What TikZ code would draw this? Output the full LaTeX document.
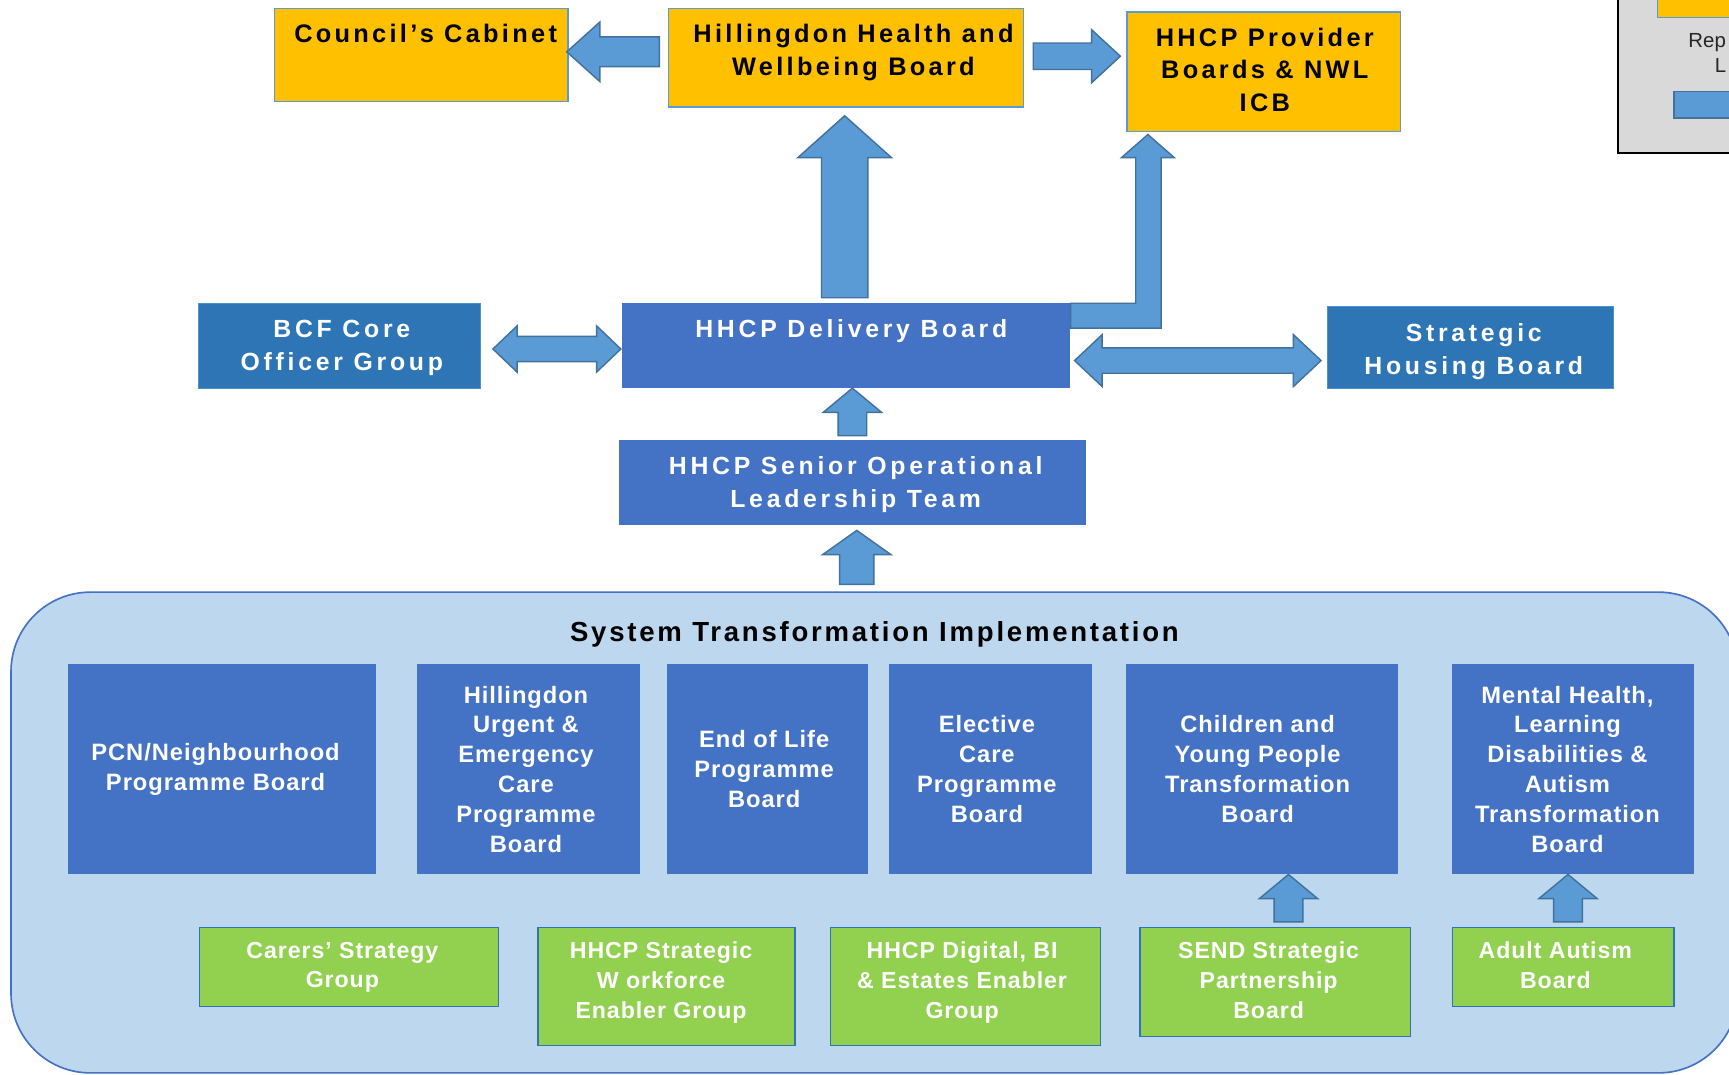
\documentclass[tikz,border=0pt]{standalone}
\usepackage{fontspec}
\setmainfont{Liberation Sans}
\newfontfamily\topf[LetterSpace=13]{Liberation Sans}
\newfontfamily\midf[LetterSpace=15]{Liberation Sans}
\newfontfamily\titf[LetterSpace=10]{Liberation Sans}
\newfontfamily\botf[LetterSpace=4]{Liberation Sans}
\usetikzlibrary{calc}
\definecolor{orng}{HTML}{FFC000}
\definecolor{obord}{HTML}{5B9BD5}
\definecolor{dkblue}{HTML}{2E75B6}
\definecolor{mdblue}{HTML}{4472C4}
\definecolor{arrfill}{HTML}{5B9BD5}
\definecolor{arrdraw}{HTML}{41719C}
\definecolor{contfill}{HTML}{BDD7EE}
\definecolor{contdraw}{HTML}{4472C4}
\definecolor{grn}{HTML}{92D050}
\definecolor{gbord}{HTML}{2E75B6}
\definecolor{legfill}{HTML}{D9D9D9}
\tikzset{
  box/.style={rectangle, inner sep=0, outer sep=0, anchor=north west},
  obox/.style={box, fill=orng, draw=obord, line width=1.2},
  dbox/.style={box, fill=dkblue, draw=obord!70!dkblue, line width=0.8},
  mbox/.style={box, fill=mdblue},
  gbox/.style={box, fill=grn, draw=gbord, line width=1.3},
  blk/.style={fill=arrfill, draw=arrdraw, line width=1.3, line join=miter},
  toptxt/.style={anchor=north, align=center, inner sep=0, font=\topf\bfseries\fontsize{23}{29.5}\selectfont},
  midtxt/.style={anchor=north, align=center, inner sep=0, text=white, font=\midf\bfseries\fontsize{22.5}{30}\selectfont},
  bottxt/.style={align=center, inner sep=0, text=white, font=\botf\bfseries\fontsize{21.5}{27}\selectfont},
  grntxt/.style={anchor=north, align=center, inner sep=0, text=white, font=\botf\bfseries\fontsize{21}{27}\selectfont},
  legtxt/.style={anchor=base west, inner sep=0, font=\fontsize{18.5}{22}\selectfont, text=black!85},
}
% base, tip, shaft half, head half, head length
\newcommand\blkup[5]{\draw[blk] let \p1=#1, \p2=#2 in
  (\x1-#3pt,\y1) -- (\x1-#3pt,\y2-#5pt) -- (\x1-#4pt,\y2-#5pt) -- (\x1,\y2) --
  (\x1+#4pt,\y2-#5pt) -- (\x1+#3pt,\y2-#5pt) -- (\x1+#3pt,\y1) -- cycle;}
\newcommand\blkleft[5]{\draw[blk] let \p1=#1, \p2=#2 in
  (\x1,\y1+#3pt) -- (\x2+#5pt,\y1+#3pt) -- (\x2+#5pt,\y1+#4pt) -- (\x2,\y1) --
  (\x2+#5pt,\y1-#4pt) -- (\x2+#5pt,\y1-#3pt) -- (\x1,\y1-#3pt) -- cycle;}
\newcommand\blkright[5]{\draw[blk] let \p1=#1, \p2=#2 in
  (\x1,\y1+#3pt) -- (\x2-#5pt,\y1+#3pt) -- (\x2-#5pt,\y1+#4pt) -- (\x2,\y1) --
  (\x2-#5pt,\y1-#4pt) -- (\x2-#5pt,\y1-#3pt) -- (\x1,\y1-#3pt) -- cycle;}
\newcommand\blkdbl[5]{\draw[blk] let \p1=#1, \p2=#2 in
  (\x1,\y1) -- (\x1+#5pt,\y1+#4pt) -- (\x1+#5pt,\y1+#3pt) -- (\x2-#5pt,\y1+#3pt) --
  (\x2-#5pt,\y1+#4pt) -- (\x2,\y1) -- (\x2-#5pt,\y1-#4pt) -- (\x2-#5pt,\y1-#3pt) --
  (\x1+#5pt,\y1-#3pt) -- (\x1+#5pt,\y1-#4pt) -- cycle;}
\begin{document}
\begin{tikzpicture}[x=1pt, y=-1pt]
\useasboundingbox (0,0) rectangle (1568,974);
\fill[white] (0,0) rectangle (1568,974);
\clip (0,0) rectangle (1568,974);

% legend (cut off at the right)
\node[box, fill=legfill, draw=black, line width=2, minimum width=120, minimum height=145] (leg) at (1467,-6) {};
\node[box, fill=orng, draw=obord, line width=1.2, minimum width=80, minimum height=22] (legor) at (1503,-6) {};
\node[box, fill=arrfill, draw=arrdraw, line width=1.3, minimum width=70, minimum height=24] (legar) at (1518,83) {};
\node[legtxt] (legt1) at (1531,43) {Rep};
\node[legtxt] (legt2) at (1555,66) {L};

% top row
\node[obox, minimum width=266, minimum height=84] (cab) at (249,8) {};
\node[obox, minimum width=322, minimum height=89] (hwb) at (606,8) {};
\node[obox, minimum width=248, minimum height=108] (prov) at (1022,11) {};
\node[toptxt] (cabt) at ($(cab.north)+(4,14)$) {Council’s Cabinet};
\node[toptxt] (hwbt) at ($(hwb.north)+(7,14)$) {Hillingdon Health and\\Wellbeing Board};
\node[toptxt] (provt) at ($(prov.north)+(1,14)$) {HHCP Provider\\Boards \& NWL\\ICB};

% middle
\node[dbox, minimum width=256, minimum height=77] (bcf) at (180,275) {};
\node[mbox, minimum width=406, minimum height=77] (del) at (564,275) {};
\node[dbox, minimum width=259, minimum height=74] (shb) at (1204,278) {};
\node[mbox, minimum width=424, minimum height=77] (solt) at (561,399) {};
\node[midtxt] (bcft) at ($(bcf.north)+(2,15)$) {BCF Core\\Officer Group};
\node[midtxt] (delt) at ($(del.north)+(5,15)$) {HHCP Delivery Board};
\node[midtxt] (shbt) at ($(shb.north)+(3,15)$) {Strategic\\Housing Board};
\node[midtxt] (soltt) at ($(solt.north)+(3,15)$) {HHCP Senior Operational\\Leadership Team};

% arrows top/middle
\blkleft{($(hwb.west)+(-8,-5.5)$)}{($(cab.east)+(-1,-3)$)}{13.5}{27}{30}
\blkright{($(hwb.east)+(9,-1.5)$)}{($(prov.west)+(-6,0)$)}{12}{24}{26}
\blkup{($(del.north)+(-1,-5)$)}{($(hwb.south)+(-1,8)$)}{21}{42.5}{38}
\draw[blk] let \p1=(del.north east), \p3=($(prov.south west)+(19,3)$) in
  (\x1+1pt,\y1) -- (\x3-11pt,\y1) -- (\x3-11pt,\y3-21pt) -- (\x3-24pt,\y3-21pt) -- (\x3,\y3) --
  (\x3+24pt,\y3-21pt) -- (\x3+12pt,\y3-21pt) -- (\x3+12pt,\y1-22.5pt) -- (\x1+1pt,\y1-22.5pt) -- cycle;
\blkdbl{($(bcf.east)+(11,3)$)}{($(del.west)+(-1,3)$)}{11.5}{21}{22}
\blkdbl{($(del.east)+(4.5,13.5)$)}{($(shb.west)+(-6,12)$)}{11.5}{23.5}{25}
\blkup{($(solt.north)+(0,-4)$)}{(del.south)}{13}{26.5}{22}

% container
\node[box, fill=contfill, draw=contdraw, line width=1.5, rounded corners=72, minimum width=1566, minimum height=436] (cont) at (10,537) {};
\blkup{($(cont.north)+(-16,-7)$)}{($(solt.south)+(4,5)$)}{15.5}{31}{22}
\node[inner sep=0, font=\titf\bfseries\fontsize{25}{30}\selectfont] (tit) at (793,575) {System Transformation Implementation};

% programme boards
\node[mbox, minimum width=279, minimum height=191] (pcn) at (62,602) {};
\node[mbox, minimum width=202, minimum height=191] (urg) at (378,602) {};
\node[mbox, minimum width=182, minimum height=191] (eol) at (605,602) {};
\node[mbox, minimum width=184, minimum height=191] (elec) at (806,602) {};
\node[mbox, minimum width=247, minimum height=191] (cyp) at (1021,602) {};
\node[mbox, minimum width=219, minimum height=191] (mh) at (1317,602) {};
\node[bottxt] (pcnt) at ($(pcn.center)+(-6,0)$) {PCN/Neighbourhood\\Programme Board};
\node[bottxt] (urgt) at ($(urg.center)+(-2,0)$) {Hillingdon\\Urgent \&\\Emergency\\Care\\Programme\\Board};
\node[bottxt] (eolt) at ($(eol.center)+(-3,0)$) {End of Life\\Programme\\Board};
\node[bottxt] (elect) at ($(elec.center)+(-3,0)$) {Elective\\Care\\Programme\\Board};
\node[bottxt] (cypt) at ($(cyp.center)+(-4,0)$) {Children and\\Young People\\Transformation\\Board};
\node[bottxt] (mht) at ($(mh.center)+(-5,0)$) {Mental Health,\\Learning\\Disabilities \&\\Autism\\Transformation\\Board};

% enabler groups
\node[gbox, minimum width=271, minimum height=72] (car) at (181,841) {};
\node[gbox, minimum width=233, minimum height=107] (wf) at (488,841) {};
\node[gbox, minimum width=245, minimum height=107] (dig) at (753,841) {};
\node[gbox, minimum width=245, minimum height=99] (send) at (1034,841) {};
\node[gbox, minimum width=201, minimum height=72] (aut) at (1317,841) {};
\node[grntxt] (cart) at ($(car.north)+(-6,13)$) {Carers’ Strategy\\Group};
\node[grntxt] (wft) at ($(wf.north)+(-5,13)$) {HHCP Strategic\\W orkforce\\Enabler Group};
\node[grntxt] (digt) at ($(dig.north)+(-3,13)$) {HHCP Digital, BI\\\& Estates Enabler\\Group};
\node[grntxt] (sendt) at ($(send.north)+(-6,13)$) {SEND Strategic\\Partnership\\Board};
\node[grntxt] (autt) at ($(aut.north)+(-7,13)$) {Adult Autism\\Board};

\blkup{($(send.north)+(12,-5)$)}{(cyp.south)}{13}{26.5}{22}
\blkup{($(aut.north)+(4.5,-5)$)}{(mh.south)}{13}{26.5}{22}
\end{tikzpicture}
\end{document}
